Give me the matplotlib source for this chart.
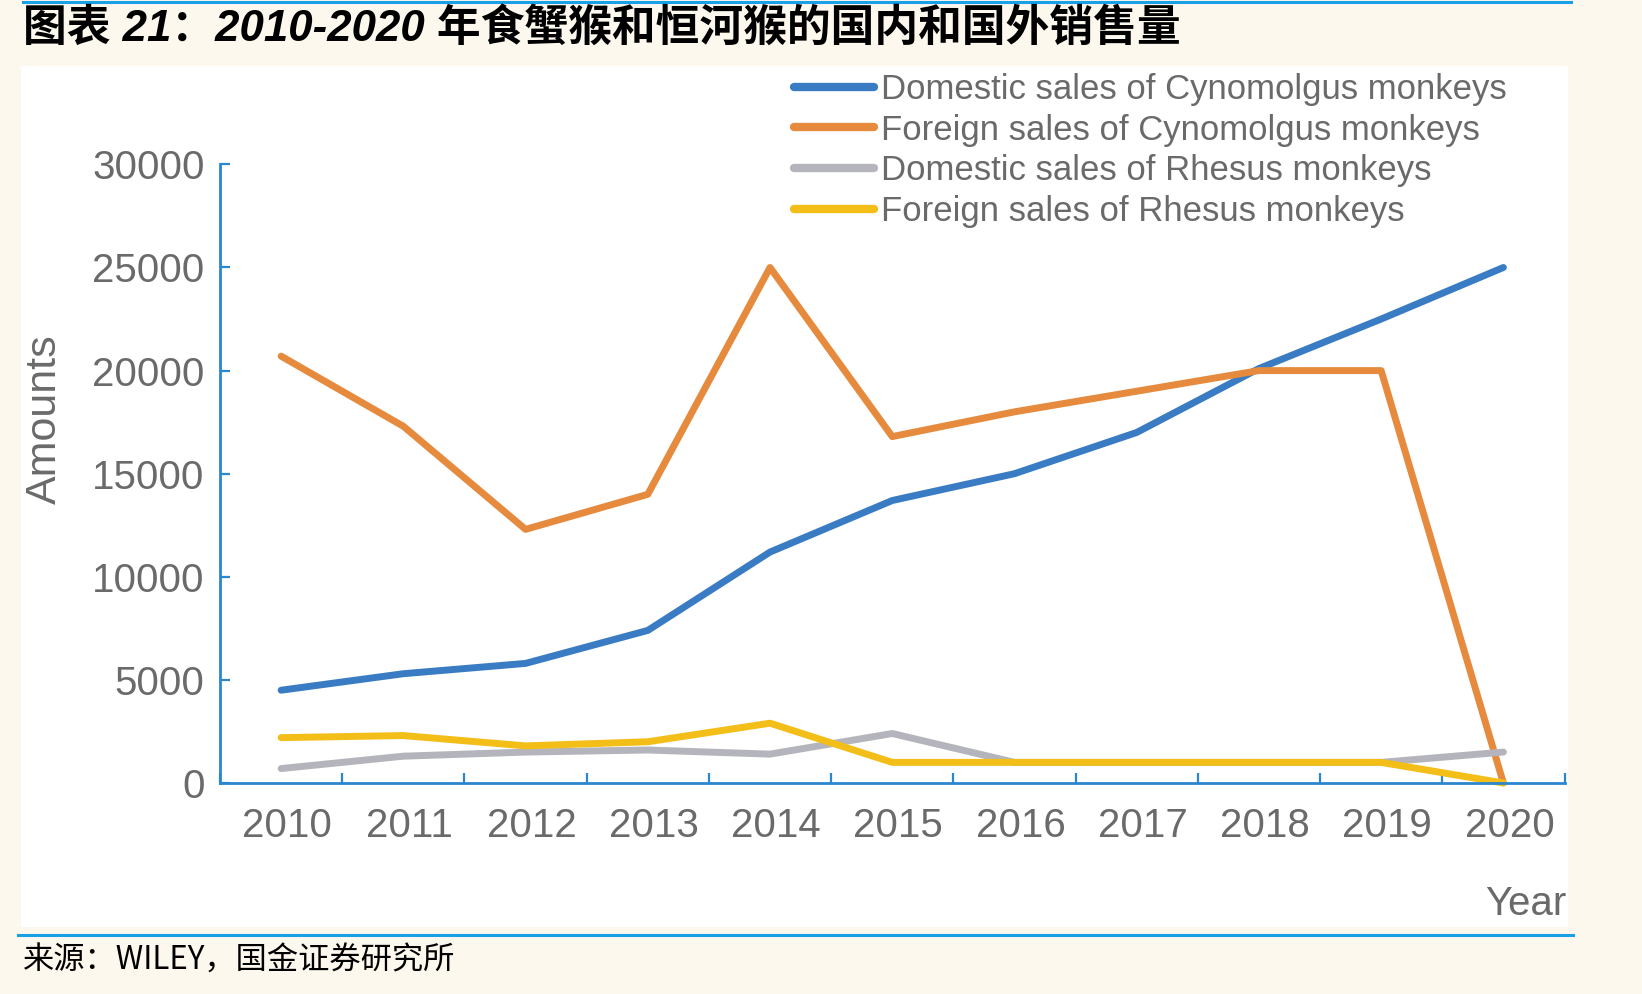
import matplotlib
matplotlib.use("Agg")
import matplotlib.pyplot as plt
import matplotlib.transforms as mtransforms
import numpy as np
from matplotlib.lines import Line2D

years = ["2010", "2011", "2012", "2013", "2014", "2015", "2016", "2017", "2018", "2019", "2020"]
dom_cyno = [4500, 5300, 5800, 7400, 11200, 13700, 15000, 17000, 20100, 22500, 25000]
for_cyno = [20700, 17300, 12300, 14000, 25000, 16800, 18000, 19000, 20000, 20000, 0]
dom_rhesus = [700, 1300, 1500, 1600, 1400, 2400, 1000, 1000, 1000, 1000, 1500]
for_rhesus = [2200, 2300, 1800, 2000, 2900, 1000, 1000, 1000, 1000, 1000, 0]
series_labels = ["Domestic sales of Cynomolgus monkeys", "Foreign sales of Cynomolgus monkeys",
                 "Domestic sales of Rhesus monkeys", "Foreign sales of Rhesus monkeys"]
y_ticks = [0, 5000, 10000, 15000, 20000, 25000, 30000]

title = "图表 21：2010-2020 年食蟹猴和恒河猴的国内和国外销售量"
source = "来源：WILEY，国金证券研究所"

colors = ["#3A7CC3", "#E68A3E", "#B4B4BC", "#F3BE17"]
axis_blue = "#2A86CF"
text_gray = "#6A6A6A"
cream = "#FDF8EE"
rule_blue = "#1AA0E6"

W, H = 1642, 994
fig = plt.figure(figsize=(W / 100, H / 100), dpi=100, facecolor=cream)

def fx(px):
    return px / W

def fy(py):
    return 1 - py / H

# white chart panel
panel = plt.Rectangle((fx(21), fy(927)), fx(1568) - fx(21), fy(66) - fy(927),
                      transform=fig.transFigure, facecolor="white", edgecolor="none", zorder=-10)
fig.add_artist(panel)
# rules
fig.add_artist(Line2D([fx(23), fx(1571)], [fy(1.5), fy(1.5)], color=rule_blue, lw=2.2))
fig.add_artist(Line2D([fx(18), fx(1573)], [fy(935), fy(935)], color=rule_blue, lw=2.2))

fig.text(fx(23), fy(29), title, fontsize=31.5, fontweight="bold", fontstyle="italic",
         family=["Liberation Sans", "Noto Sans CJK SC"], va="center", ha="left", color="black")
fig.text(fx(23), fy(961), source, fontsize=22.5,
         family=["Noto Sans CJK SC", "DejaVu Sans"], va="center", ha="left", color="black")

ax = fig.add_axes([fx(220), fy(783), fx(1564.5) - fx(220), fy(164.4) - fy(783)])
ax.set_facecolor("none")
ax.set_zorder(1)
x = np.arange(len(years))
for vals, c, lab in zip([dom_cyno, for_cyno, dom_rhesus, for_rhesus], colors, series_labels):
    ax.plot(x, vals, color=c, lw=5, label=lab, solid_capstyle="round", solid_joinstyle="round", clip_on=False)

ax.set_xlim(-0.5, len(years) - 0.5)
ax.set_ylim(0, 30000)
ax.set_yticks(y_ticks)
ax.set_yticklabels([str(v) for v in y_ticks])
ax.set_xticks(x)
ax.set_xticklabels(years)
ax.set_xticks(np.arange(-0.5, len(years), 1.0), minor=True)
for s in ["top", "right"]:
    ax.spines[s].set_visible(False)
for s in ["left", "bottom"]:
    ax.spines[s].set_color(axis_blue)
    ax.spines[s].set_linewidth(2)
ax.tick_params(axis="x", which="major", length=0, pad=17.5, labelsize=29, labelcolor=text_gray)
ax.tick_params(axis="x", which="minor", direction="in", length=7, width=1.6, color=axis_blue)
ax.tick_params(axis="y", which="major", direction="in", length=7, width=1.6, color=axis_blue,
               pad=11, labelsize=29, labelcolor=text_gray)
shift = mtransforms.ScaledTranslation(6 / 100, 0, fig.dpi_scale_trans)
for lbl in ax.get_xticklabels():
    lbl.set_family("Liberation Sans")
    lbl.set_transform(lbl.get_transform() + shift)
for lbl in ax.get_yticklabels():
    lbl.set_family("Liberation Sans")

fig.text(fx(45), fy(400 * 1.0472), "Amounts", rotation=90, fontsize=31, color=text_gray,
         family="Liberation Sans", va="center", ha="center")
fig.text(fx(1566), fy(904), "Year", fontsize=29, color=text_gray,
         family="Liberation Sans", va="center", ha="right")

handles = [Line2D([], [], color=c, lw=6, solid_capstyle="round") for c in colors]
leg = fig.legend(handles, series_labels, loc="upper left", bbox_to_anchor=(fx(787), fy(66)), frameon=False,
                 labelcolor=text_gray, handlelength=2.3, handletextpad=0.2,
                 labelspacing=0.22, borderaxespad=0, borderpad=0.2,
                 prop={"family": "Liberation Sans", "size": 25})

fig.savefig("out.png", dpi=100, facecolor=cream)
